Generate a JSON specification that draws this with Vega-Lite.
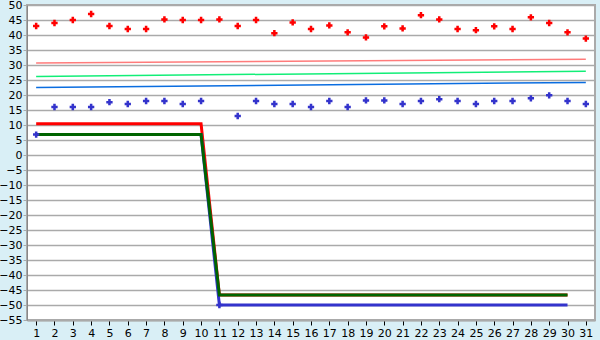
{
  "$schema": "https://vega.github.io/schema/vega-lite/v6.json",
  "width": 568,
  "height": 315,
  "autosize": {"type": "none"},
  "padding": {"left": 27, "top": 5, "right": 5, "bottom": 20},
  "background": "#d9eff6",
  "config": {
    "view": {"fill": "white", "stroke": "#aaaaaa", "strokeWidth": 2},
    "axis": {"labelFont": "DejaVu Sans", "labelFontSize": 11, "labelColor": "#000000", "title": null}
  },
  "datasets": {
    "pts": [
      {"day": 1, "v": 43, "s": "r"}, {"day": 2, "v": 44, "s": "r"}, {"day": 3, "v": 45, "s": "r"}, {"day": 4, "v": 47, "s": "r"},
      {"day": 5, "v": 43, "s": "r"}, {"day": 6, "v": 42, "s": "r"}, {"day": 7, "v": 42, "s": "r"}, {"day": 8, "v": 45.2, "s": "r"},
      {"day": 9, "v": 45, "s": "r"}, {"day": 10, "v": 45, "s": "r"}, {"day": 11, "v": 45.2, "s": "r"}, {"day": 12, "v": 43, "s": "r"},
      {"day": 13, "v": 45, "s": "r"}, {"day": 14, "v": 40.6, "s": "r"}, {"day": 15, "v": 44.2, "s": "r"}, {"day": 16, "v": 42, "s": "r"},
      {"day": 17, "v": 43.2, "s": "r"}, {"day": 18, "v": 40.9, "s": "r"}, {"day": 19, "v": 39.2, "s": "r"}, {"day": 20, "v": 42.9, "s": "r"},
      {"day": 21, "v": 42.2, "s": "r"}, {"day": 22, "v": 46.6, "s": "r"}, {"day": 23, "v": 45.2, "s": "r"}, {"day": 24, "v": 42, "s": "r"},
      {"day": 25, "v": 41.6, "s": "r"}, {"day": 26, "v": 42.9, "s": "r"}, {"day": 27, "v": 42, "s": "r"}, {"day": 28, "v": 45.9, "s": "r"},
      {"day": 29, "v": 44, "s": "r"}, {"day": 30, "v": 40.9, "s": "r"}, {"day": 31, "v": 38.8, "s": "r"},
      {"day": 1, "v": 6.8, "s": "b"}, {"day": 2, "v": 16, "s": "b"}, {"day": 3, "v": 16, "s": "b"}, {"day": 4, "v": 16, "s": "b"},
      {"day": 5, "v": 17.6, "s": "b"}, {"day": 6, "v": 17, "s": "b"}, {"day": 7, "v": 18, "s": "b"}, {"day": 8, "v": 18, "s": "b"},
      {"day": 9, "v": 17, "s": "b"}, {"day": 10, "v": 18, "s": "b"}, {"day": 11, "v": -50, "s": "b"}, {"day": 12, "v": 13, "s": "b"},
      {"day": 13, "v": 18, "s": "b"}, {"day": 14, "v": 17, "s": "b"}, {"day": 15, "v": 17, "s": "b"}, {"day": 16, "v": 16, "s": "b"},
      {"day": 17, "v": 18, "s": "b"}, {"day": 18, "v": 16, "s": "b"}, {"day": 19, "v": 18.2, "s": "b"}, {"day": 20, "v": 18.2, "s": "b"},
      {"day": 21, "v": 17, "s": "b"}, {"day": 22, "v": 18, "s": "b"}, {"day": 23, "v": 18.6, "s": "b"}, {"day": 24, "v": 18, "s": "b"},
      {"day": 25, "v": 17, "s": "b"}, {"day": 26, "v": 18, "s": "b"}, {"day": 27, "v": 18, "s": "b"}, {"day": 28, "v": 18.9, "s": "b"},
      {"day": 29, "v": 19.9, "s": "b"}, {"day": 30, "v": 18, "s": "b"}, {"day": 31, "v": 17, "s": "b"}
    ],
    "thin": [
      {"day": 1, "v": 30.7, "s": "pink"}, {"day": 31, "v": 31.9, "s": "pink"},
      {"day": 1, "v": 26.2, "s": "lgreen"}, {"day": 31, "v": 27.9, "s": "lgreen"},
      {"day": 1, "v": 22.5, "s": "lblue"}, {"day": 31, "v": 24.2, "s": "lblue"}
    ],
    "main": [
      {"day": 1, "v": 10.4, "s": "1red"}, {"day": 10, "v": 10.4, "s": "1red"}, {"day": 11, "v": -46.7, "s": "1red"}, {"day": 30, "v": -46.7, "s": "1red"},
      {"day": 1, "v": 6.8, "s": "2blue"}, {"day": 10, "v": 6.8, "s": "2blue"}, {"day": 11, "v": -50, "s": "2blue"}, {"day": 30, "v": -50, "s": "2blue"},
      {"day": 1, "v": 6.8, "s": "3green"}, {"day": 10, "v": 6.8, "s": "3green"}, {"day": 11, "v": -46.7, "s": "3green"}, {"day": 30, "v": -46.7, "s": "3green"}
    ]
  },
  "encoding": {
    "x": {
      "field": "day", "type": "ordinal",
      "scale": {"domain": [1,2,3,4,5,6,7,8,9,10,11,12,13,14,15,16,17,18,19,20,21,22,23,24,25,26,27,28,29,30,31], "paddingInner": 0, "paddingOuter": 0},
      "axis": {"labelAngle": 0, "domainColor": "#aaaaaa", "domainWidth": 2, "tickColor": "#000000", "tickSize": 5, "labelPadding": 2, "grid": false}
    },
    "y": {
      "field": "v", "type": "quantitative",
      "scale": {"domain": [-55, 50], "nice": false, "zero": false},
      "axis": {"values": [-55,-50,-45,-40,-35,-30,-25,-20,-15,-10,-5,0,5,10,15,20,25,30,35,40,45,50], "grid": true, "gridColor": "#aaaaaa", "gridWidth": 1.5, "gridOpacity": 1, "domainColor": "#888888", "domainWidth": 1, "tickColor": "#aaaaaa", "tickSize": 4, "labelPadding": 1}
    }
  },
  "layer": [
    {
      "data": {"name": "thin"},
      "mark": {"type": "line", "strokeWidth": 1.5},
      "encoding": {
        "color": {"field": "s", "type": "nominal", "scale": {"domain": ["pink", "lgreen", "lblue"], "range": ["#ff7b7b", "#11ee77", "#0a6de0"]}, "legend": null}
      }
    },
    {
      "data": {"name": "main"},
      "mark": {"type": "line", "strokeWidth": 3},
      "encoding": {
        "color": {"field": "s", "type": "nominal", "scale": {"domain": ["1red", "2blue", "3green"], "range": ["#ff0000", "#3333cc", "#006400"]}, "legend": null},
        "order": {"field": "s"}
      }
    },
    {
      "data": {"name": "pts"},
      "mark": {"type": "point", "shape": "cross", "filled": true, "size": 40, "opacity": 1},
      "encoding": {
        "color": {"field": "s", "type": "nominal", "scale": {"domain": ["r", "b"], "range": ["#ff0000", "#3333cc"]}, "legend": null}
      }
    }
  ],
  "resolve": {"scale": {"color": "independent"}}
}
